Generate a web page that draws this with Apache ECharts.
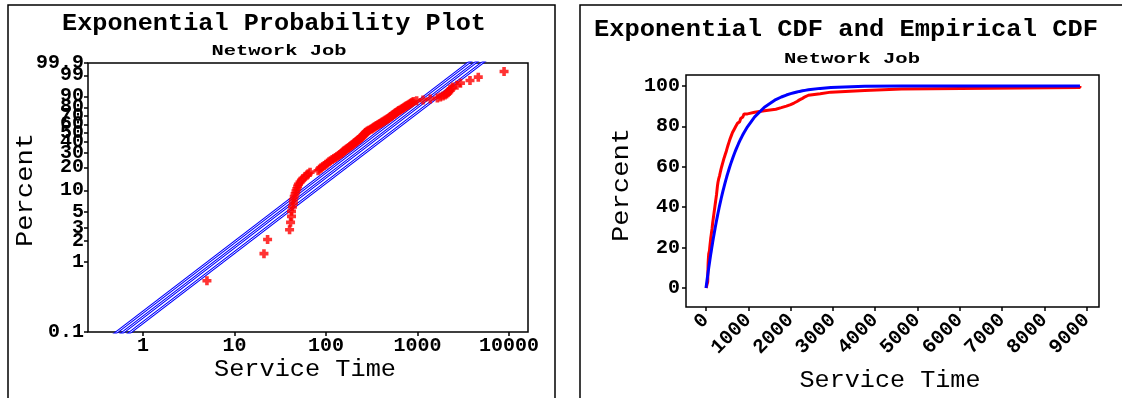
<!DOCTYPE html>
<html><head><meta charset="utf-8">
<script src="https://cdn.jsdelivr.net/npm/echarts@6/dist/echarts.min.js"></script>
<style>html,body{margin:0;padding:0;background:#fff}#c{width:1122px;height:398px}</style>
</head><body><div id="c"></div>
<script>
// ---- data ----
const serviceTime = [5,21,23,40,41,42,42,43,44,44,45,46,47,48,49,50,52,54,56,59,62,64,67,
  82,85,88,92,96,100,104,108,112,117,122,127,132,137,142,147,
  150,154,158,163,168,173,178,183,188,193,198,203,208,213,218,223,228,233,238,243,
  248,252,256,260,264,268,272,277,283,290,298,
  310,318,326,334,342,351,360,370,380,390,400,410,420,432,444,456,468,480,490,500,
  510,522,534,546,558,570,584,598,612,626,
  645,665,685,705,725,745,770,795,820,845,870,900,
  980,1150,1380,1650,1780,1900,2000,2080,2150,2210,2280,2340,2420,2700,2950,3750,4620,8840];
const probTickLabels = ['0.1','1','2','3','5','10','20','30','40','50','60','70','80','90','99'];
const probTopLabel = ['99.9'];
const logTickLabels = ['1','10','100','1000','10000'];
const cdfXTicks = [0,1000,2000,3000,4000,5000,6000,7000,8000,9000];
const cdfYTicks = [0,20,40,60,80,100];

// ---- derived ----
const lg = Math.log10;
const n = serviceTime.length;
const theta = serviceTime.reduce((a,b)=>a+b,0)/n; // exponential MLE
function chi2q(k, z){ const a = 2/(9*k); return k*Math.pow(1 - a + z*Math.sqrt(a),3); }
const thetaLo = 2*n*theta/chi2q(2*n, 1.959964);
const thetaHi = 2*n*theta/chi2q(2*n, -1.959964);
const tOf = p => lg(-Math.log(1 - p/100));
const probTickVals = probTickLabels.map(s => tOf(parseFloat(s)));
const probTopVals = probTopLabel.map(s => tOf(parseFloat(s)));
const logTickVals = logTickLabels.map(s => lg(parseFloat(s)));

const probPoints = serviceTime.map((x,i)=>[lg(x), tOf(100*(i+1-0.3)/(n+0.4))]);
const lineEnds = [0.01, 1e6];
const fitLine = th => lineEnds.map(x => [lg(x), lg(x/th)]);

const ecdf = [[serviceTime[0],0]].concat(serviceTime.map((x,i)=>[x, 100*(i+1)/n]));
const fitCdf = [[0,0]].concat(serviceTime.map(x=>[x, 100*(1-Math.exp(-x/theta))]));

// ---- text helpers ----
const MONO = '"Liberation Mono", "DejaVu Sans Mono", monospace';
const mctx = document.createElement('canvas').getContext('2d');
function txt(str, cx, cy, w, size, weight, rot){
  const font = (weight||'normal') + ' ' + size + 'px ' + MONO;
  mctx.font = font;
  const mw = mctx.measureText(str).width;
  return {type:'text', x:cx, y:cy, rotation: rot||0, scaleX: w/mw, silent:true,
    style:{text:str, font:font, fill:'#000', align:'center', verticalAlign:'middle'}};
}
const labelStyle = {fontFamily:'Liberation Mono', fontWeight:'bold', fontSize:20, color:'#000',
  showMinLabel:true, showMaxLabel:true};
const tickStyle = {show:true, length:4, lineStyle:{color:'#000', width:1.5}};
const noLine = {show:false, onZero:false};
const crossPath = 'path://M3,0H7V3H10V7H7V10H3V7H0V3H3Z';
const EPS = 1e-7;
const T_MIN = -3 - EPS, T_MAX = tOf(99.9) + EPS;
const findLabel = (vals, labels) => v => labels[vals.findIndex(t=>Math.abs(t-v)<1e-6)];

const chart = echarts.init(document.getElementById('c'), null, {renderer:'canvas'});
const hollow = (data, z) => [
  {type:'line', xAxisIndex:0, yAxisIndex:0, data, showSymbol:false, silent:true, z:z,
   lineStyle:{color:'#0000ff', width:2.8}},
  {type:'line', xAxisIndex:0, yAxisIndex:0, data, showSymbol:false, silent:true, z:z+1,
   lineStyle:{color:'#ffffff', width:0.9}}
];
chart.setOption({
  animation:false,
  backgroundColor:'#fff',
  grid:[
    {left:88, top:63, width:440, height:269, show:true, borderColor:'#000', borderWidth:1.5},
    {left:686, top:75, width:413, height:232, show:true, borderColor:'#000', borderWidth:1.5}
  ],
  xAxis:[
    {type:'value', gridIndex:0, min:-0.601, max:4.208,
     axisLine:noLine, splitLine:{show:false},
     axisTick:Object.assign({customValues:logTickVals}, tickStyle),
     axisLabel:Object.assign({customValues:logTickVals, margin:4,
       formatter:findLabel(logTickVals, logTickLabels)}, labelStyle)},
    {type:'value', gridIndex:1, min:-473, max:9290,
     axisLine:noLine, splitLine:{show:false},
     axisTick:Object.assign({customValues:cdfXTicks}, tickStyle),
     axisLabel:Object.assign({customValues:cdfXTicks, rotate:45, margin:10,
       formatter:v => String(v)}, labelStyle)}
  ],
  yAxis:[
    {type:'value', gridIndex:0, min:T_MIN, max:T_MAX, position:'left',
     axisLine:noLine, splitLine:{show:false},
     axisTick:Object.assign({customValues:probTickVals}, tickStyle),
     axisLabel:Object.assign({customValues:probTickVals, margin:4,
       formatter:findLabel(probTickVals, probTickLabels)}, labelStyle)},
    {type:'value', gridIndex:1, min:-9.4, max:105.4,
     axisLine:noLine, splitLine:{show:false},
     axisTick:Object.assign({customValues:cdfYTicks}, tickStyle),
     axisLabel:Object.assign({customValues:cdfYTicks, margin:6}, labelStyle)},
    {type:'value', gridIndex:0, min:T_MIN, max:T_MAX, position:'left', offset:0,
     axisLine:noLine, splitLine:{show:false},
     axisTick:Object.assign({customValues:probTopVals}, tickStyle),
     axisLabel:Object.assign({customValues:probTopVals, margin:4,
       formatter:findLabel(probTopVals, probTopLabel)}, labelStyle)}
  ],
  series:[
    ...hollow(fitLine(thetaLo), 2),
    ...hollow(fitLine(theta), 2),
    ...hollow(fitLine(thetaHi), 2),
    {type:'scatter', xAxisIndex:0, yAxisIndex:0, data:probPoints, symbol:crossPath, symbolSize:9,
     itemStyle:{color:'#ff0000'}, z:5, silent:true},
    {type:'line', xAxisIndex:1, yAxisIndex:1, data:ecdf, step:'end', showSymbol:false, silent:true,
     lineStyle:{color:'#ff0000', width:3}, z:3},
    {type:'line', xAxisIndex:1, yAxisIndex:1, data:fitCdf, showSymbol:false, silent:true,
     lineStyle:{color:'#0000ff', width:3}, z:4}
  ],
  graphic:[
    {type:'rect', shape:{x:8, y:5, width:547, height:430}, style:{fill:null, stroke:'#000', lineWidth:1.5}, silent:true},
    {type:'rect', shape:{x:580, y:5, width:560, height:430}, style:{fill:null, stroke:'#000', lineWidth:1.5}, silent:true},
    txt('Exponential Probability Plot', 274, 24, 424, 23, 'bold'),
    txt('Network Job', 279, 51, 135, 15, 'bold'),
    txt('Exponential CDF and Empirical CDF', 846, 30, 504, 23, 'bold'),
    txt('Network Job', 852, 59, 136, 15, 'bold'),
    txt('Percent', 26, 190, 114, 24, 'normal', Math.PI/2),
    txt('Service Time', 305, 370, 182, 23, 'normal'),
    txt('Percent', 622, 185, 114, 24, 'normal', Math.PI/2),
    txt('Service Time', 890, 381, 181, 23, 'normal')
  ]
});
</script></body></html>
